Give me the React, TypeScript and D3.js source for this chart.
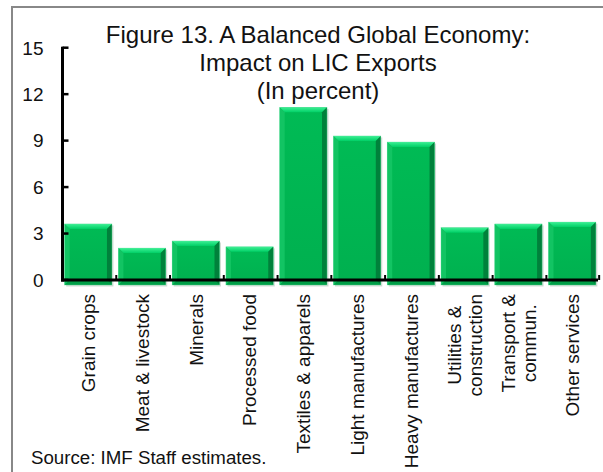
import React from "react";
import * as d3 from "d3";

const categories = [
  "Grain crops",
  "Meat & livestock",
  "Minerals",
  "Processed food",
  "Textiles & apparels",
  "Light manufactures",
  "Heavy manufactures",
  "Utilities &\nconstruction",
  "Transport &\ncommun.",
  "Other services",
];
const values = [3.62, 2.06, 2.52, 2.14, 11.15, 9.3, 8.91, 3.38, 3.62, 3.74];
const yTicks = [0, 3, 6, 9, 12, 15];
const titleLines = [
  "Figure 13. A Balanced Global Economy:",
  "Impact on LIC Exports",
  "(In percent)",
];
const sourceText = "Source: IMF Staff estimates.";

const W = 603;
const H = 472;
const FONT = "'Liberation Sans', Arial, Helvetica, sans-serif";

function measure(text: string, size: number): number {
  const c = document.createElement("canvas").getContext("2d");
  if (!c) return text.length * size * 0.5;
  c.font = `${size}px ${FONT}`;
  return c.measureText(text).width;
}

export default function App() {
  const x0 = 62.5;
  const x1 = 598;
  const yZero = 280;
  const yTop = 47.7;
  const x = d3
    .scaleBand<string>()
    .domain(categories)
    .range([x0, x1])
    .paddingInner(0.12)
    .paddingOuter(0.04);
  const y = d3.scaleLinear().domain([0, 15]).range([yZero, yTop]);
  const step = x.step();
  const bw = x.bandwidth();
  const bev = 5;
  const labelSize = 19;

  return (
    <svg
      width={W}
      height={H}
      style={{ position: "absolute", left: 0, top: 0, background: "#fff" }}
      fontFamily={FONT}
    >
      <defs>
        <linearGradient id="topBev" x1="0" y1="0" x2="0" y2="1">
          <stop offset="0" stopColor="#3cf094" />
          <stop offset="1" stopColor="#00cf66" />
        </linearGradient>
        <linearGradient id="face" x1="0" y1="0" x2="0" y2="1">
          <stop offset="0" stopColor="#00bb55" />
          <stop offset="1" stopColor="#00b04f" />
        </linearGradient>
      </defs>
      {/* frame */}
      <path d={`M12,${H + 5} L12,7 L${W + 5},7`} fill="none" stroke="#888" strokeWidth={2} />

      {/* title */}
      {titleLines.map((t, i) => (
        <text key={i} x={318} y={42.5 + i * 28.2} textAnchor="middle" fontSize={24} fill="#111">
          {t}
        </text>
      ))}

      {/* bars */}
      {categories.map((c, i) => {
        const bx = x(c) as number;
        const by = y(values[i]);
        const bb = yZero + 5;
        const r = bx + bw;
        return (
          <g key={c}>
            <rect x={bx + 1.5} y={by + 1.5} width={bw} height={bb - by} fill="rgba(0,60,20,0.18)" />
            <rect x={bx} y={by} width={bw} height={bb - by} fill="url(#face)" />
            <polygon
              points={`${bx},${by} ${r},${by} ${r - bev},${by + bev} ${bx + bev},${by + bev}`}
              fill="url(#topBev)"
            />
            <polygon
              points={`${r},${by} ${r},${bb} ${r - bev},${bb - bev} ${r - bev},${by + bev}`}
              fill="#00813b"
            />
            <polygon
              points={`${bx},${by} ${bx + bev},${by + bev} ${bx + bev},${bb - bev} ${bx},${bb}`}
              fill="#12c463"
            />
            <polygon
              points={`${bx},${bb} ${bx + bev},${bb - bev} ${r - bev},${bb - bev} ${r},${bb}`}
              fill="#009e47"
            />
            <rect x={bx} y={by} width={bw} height={bb - by} fill="none" stroke="#5fe3a0" strokeWidth={0.6} opacity={0.6} />
          </g>
        );
      })}

      {/* y axis */}
      <line x1={x0} x2={x0} y1={yTop - 1} y2={yZero + 1.5} stroke="#000" strokeWidth={3} />
      {yTicks.map((t) => (
        <g key={t}>
          <line x1={x0} x2={x0 + 6} y1={y(t)} y2={y(t)} stroke="#000" strokeWidth={2.5} />
          <text x={43.5} y={y(t)} dy="0.36em" textAnchor="end" fontSize={19} fill="#111">
            {t}
          </text>
        </g>
      ))}

      {/* x axis */}
      <line x1={x0 - 1.5} x2={x1} y1={yZero} y2={yZero} stroke="#000" strokeWidth={3} />
      {categories.map((c, i) => {
        const tx = x0 + step * (i + 1) - (i === categories.length - 1 ? 1 : 0);
        return <line key={c} x1={tx} x2={tx} y1={yZero} y2={yZero - 5} stroke="#000" strokeWidth={2} />;
      })}

      {/* category labels */}
      {categories.map((c) => {
        const cx = (x(c) as number) + bw / 2;
        const lines = c.split("\n");
        const lh = 21;
        if (lines.length === 1) {
          return (
            <g key={c} transform={`translate(${cx},294) rotate(-90)`}>
              <text x={0} y={0} dy="0.36em" textAnchor="end" fontSize={labelSize} fill="#111">
                {c}
              </text>
            </g>
          );
        }
        const maxW = Math.max(...lines.map((l) => measure(l, labelSize)));
        return (
          <g key={c} transform={`translate(${cx},294) rotate(-90)`}>
            {lines.map((l, j) => (
              <text
                key={j}
                x={-maxW / 2}
                y={(j - (lines.length - 1) / 2) * lh}
                dy="0.36em"
                textAnchor="middle"
                fontSize={labelSize}
                fill="#111"
              >
                {l}
              </text>
            ))}
          </g>
        );
      })}

      {/* source */}
      <text x={31} y={464} fontSize={18.7} fill="#111">
        {sourceText}
      </text>
    </svg>
  );
}
